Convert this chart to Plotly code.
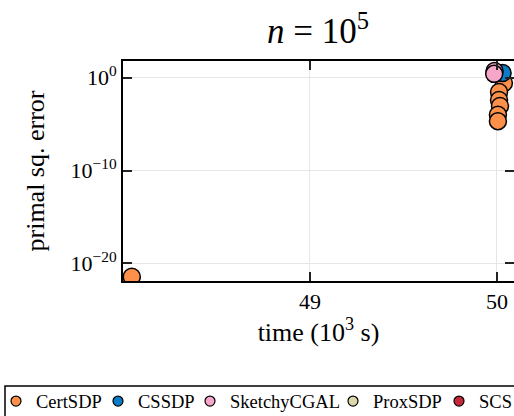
import plotly.graph_objects as go

# ---- data (time in 10^3 s, primal squared error) ----
certsdp_time = [48.047, 50.037, 50.011, 50.011, 50.016, 50.005, 50.005]
certsdp_err = [3.6e-22, 0.27, 0.029, 0.004, 8.9e-4, 1.0e-4, 2.1e-5]
cssdp_time = [50.03]
cssdp_err = [3.2]
sketchy_time = [49.987, 49.985]
sketchy_err = [5.2, 2.6]
proxsdp_time = []
proxsdp_err = []
scs_time = []
scs_err = []

x_ticks = [49, 50]
y_tickvals = [1.0, 1e-10, 1e-20]
y_ticktext = ["10<sup>0</sup>", "10<sup>−10</sup>", "10<sup>−20</sup>"]

names = ["CertSDP", "CSSDP", "SketchyCGAL", "ProxSDP", "SCS"]
times = [certsdp_time, cssdp_time, sketchy_time, proxsdp_time, scs_time]
errs = [certsdp_err, cssdp_err, sketchy_err, proxsdp_err, scs_err]
colors = ["#FD9149", "#0A7CC8", "#F5A6C9", "#DDD8AC", "#C5283A"]
legend_left_px = [-4, 98, 190, 333, 439]   # left edge of each legend entry (px)

FONT = "Liberation Serif"
W, H = 514, 416
PL, PW = 123, 391   # plot area left / width in px

fig = go.Figure()
for name, xs, ys, col in zip(names, times, errs, colors):
    fig.add_trace(go.Scatter(
        x=xs if xs else [None], y=ys if ys else [None], name=name, mode="markers",
        showlegend=False,
        marker=dict(size=17, color=col, line=dict(color="black", width=1.5)),
    ))

legend_layouts = {}
for i, (name, col, lx) in enumerate(zip(names, colors, legend_left_px)):
    key = "legend" if i == 0 else f"legend{i + 1}"
    fig.add_trace(go.Scatter(
        x=[None], y=[None], name=name, mode="markers", showlegend=True,
        legend=key,
        marker=dict(size=10, color=col, line=dict(color="black", width=1.2)),
    ))
    legend_layouts[key] = dict(
        orientation="h", xref="paper", yref="container",
        x=(lx - PL) / PW, xanchor="left", y=1 - 401.5 / H, yanchor="middle",
        borderwidth=0, bgcolor="rgba(0,0,0,0)",
        font=dict(family=FONT, size=18.5, color="black"),
        itemsizing="trace", itemwidth=30,
    )

fig.update_layout(
    width=W, height=H,
    margin=dict(l=PL, r=0, t=61, b=135, autoexpand=False),
    paper_bgcolor="white", plot_bgcolor="white",
    font=dict(family=FONT, color="black", size=22),
    title=dict(text="<i>n</i> = 10<sup>5</sup>", x=318 / W, xanchor="center",
               yref="container", y=1 - 31 / H, yanchor="middle",
               font=dict(family=FONT, size=35, color="black")),
    showlegend=True,
    xaxis=dict(range=[48.0, 50.091], tickvals=x_ticks, ticktext=[str(v) for v in x_ticks],
               showgrid=True, gridcolor="#e6e6e6", gridwidth=1, zeroline=False,
               showline=True, linecolor="black", linewidth=2, mirror="ticks",
               ticks="inside", ticklen=9, tickwidth=1.5, tickcolor="#222",
               tickfont=dict(family=FONT, size=22),
               title=dict(text="time (10<sup>3</sup> s)", font=dict(family=FONT, size=26),
                          standoff=6)),
    yaxis=dict(type="log", range=[-21.9, 1.8], tickvals=y_tickvals, ticktext=y_ticktext,
               showgrid=True, gridcolor="#e6e6e6", gridwidth=1, zeroline=False,
               showline=True, linecolor="black", linewidth=2, mirror="ticks",
               ticks="inside", ticklen=9, tickwidth=1.5, tickcolor="#222",
               tickfont=dict(family=FONT, size=22),
               title=dict(text="primal sq. error", font=dict(family=FONT, size=26),
                          standoff=18)),
    **legend_layouts,
)

# frame around the legend row (runs off the right and bottom edges as in the reference)
fig.add_shape(type="rect", xref="paper", yref="paper",
              x0=(5 - PL) / PW, x1=(530 - PL) / PW,
              y0=(281 - 386) / 220, y1=(281 - 440) / 220,
              line=dict(color="black", width=1.5), fillcolor="rgba(0,0,0,0)", layer="below")

fig.write_html("out.html", config={"displayModeBar": False},
               post_script="document.body.style.margin='0';document.body.style.overflow='hidden';")
